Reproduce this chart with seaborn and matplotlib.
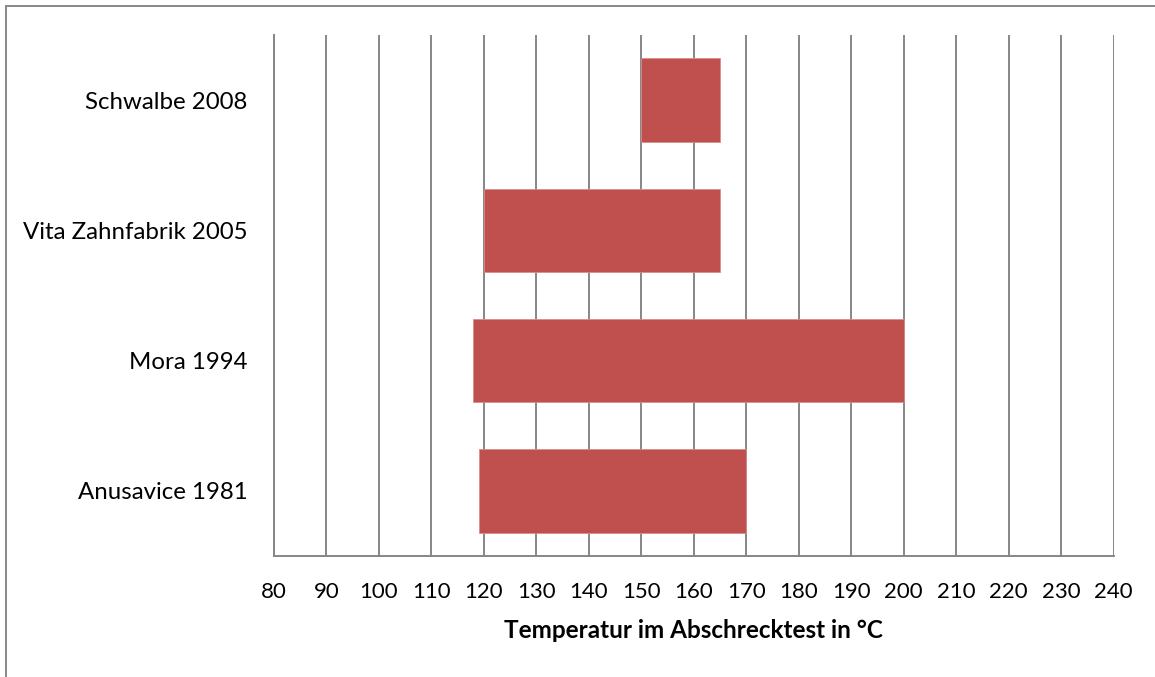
import matplotlib
matplotlib.use("Agg")
import matplotlib.pyplot as plt
from matplotlib.lines import Line2D
import seaborn as sns
import pandas as pd

# Temperature ranges in the quench test per study
studies = ["Schwalbe 2008", "Vita Zahnfabrik 2005", "Mora 1994", "Anusavice 1981"]
range_start = [150, 120, 118, 119]
range_end = [165, 165, 200, 170]
x_ticks = list(range(80, 241, 10))

df = pd.DataFrame({
    "study": studies,
    "span": [e - s for s, e in zip(range_start, range_end)],
})

sns.set_theme(style="white")
plt.rcParams["font.family"] = ["Lato", "DejaVu Sans"]

fig = plt.figure(figsize=(11.55, 6.77), dpi=100)
ax = fig.add_axes([274 / 1155, 1 - 556 / 677, (1113.5 - 274) / 1155, (556 - 35) / 677])

sns.barplot(data=df, x="span", y="study", order=studies, orient="h",
            left=range_start, color="#C0504D", saturation=1, width=0.64,
            edgecolor="#D88C8A", linewidth=0.6, ax=ax, zorder=3)

ax.set_xlim(80, 240)
ax.set_ylim(3.5, -0.5)
ax.set_xticks(x_ticks)
ax.set_xticklabels([str(t) for t in x_ticks])
ax.xaxis.grid(True, color="#868686", linewidth=1.4)
ax.yaxis.grid(False)
ax.set_axisbelow(True)

for side in ("top", "right"):
    ax.spines[side].set_visible(False)
for side in ("left", "bottom"):
    ax.spines[side].set_color("#868686")
    ax.spines[side].set_linewidth(1.4)

ax.tick_params(axis="x", length=0, pad=19, labelsize=16, labelcolor="#000000")
ax.tick_params(axis="y", length=0, pad=19, labelsize=17.3, labelcolor="#000000")
ax.set_ylabel("")
ax.set_xlabel("Temperatur im Abschrecktest in °C", fontsize=17.5, fontweight="bold",
              labelpad=12, color="#000000")

# outer chart frame
grey = "#888888"
fig.add_artist(Line2D([6 / 1155, 1], [1 - 6 / 677, 1 - 6 / 677], color=grey, lw=1.4,
                      transform=fig.transFigure))
fig.add_artist(Line2D([6 / 1155, 6 / 1155], [0, 1 - 6 / 677], color=grey, lw=1.4,
                      transform=fig.transFigure))

fig.savefig("out.png", dpi=100)
